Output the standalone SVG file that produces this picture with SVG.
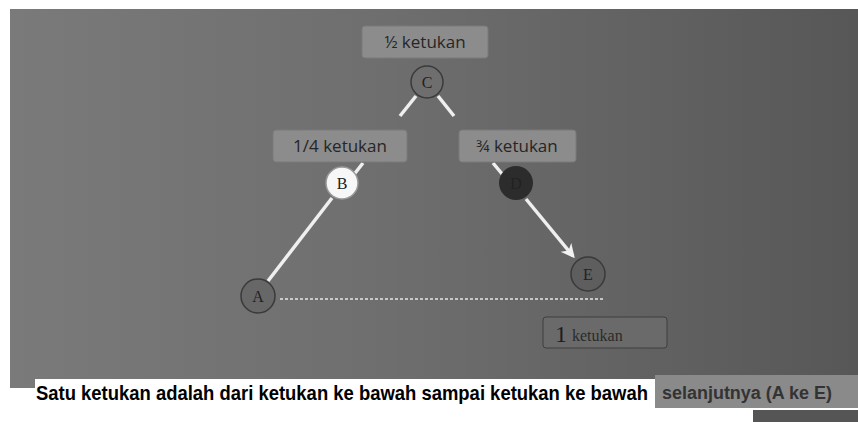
<svg xmlns="http://www.w3.org/2000/svg" width="858" height="422" viewBox="0 0 858 422">
<defs>
<linearGradient id="bg" x1="0" y1="0" x2="1" y2="0">
<stop offset="0" stop-color="#7a7a7a"/>
<stop offset="0.45" stop-color="#6e6e6e"/>
<stop offset="1" stop-color="#575757"/>
</linearGradient>
<marker id="arr" viewBox="0 0 10 10" refX="8" refY="5" markerWidth="4" markerHeight="4" orient="auto">
<path d="M0,0 L10,5 L0,10 L3,5 z" fill="#f2f2f2"/>
</marker>
<style>
.lbl{fill:#8c8c8c;stroke:#7a7a7a;stroke-width:1}
.lt{font-family:"Open Sans","Noto Sans",sans-serif;font-size:17px;fill:#262626}
.node{stroke:#3a3a3a;stroke-width:1.5}
.nt{font-family:"Liberation Serif",serif;font-size:16px;text-anchor:middle;fill:#222}
.edge{stroke:#efefef;stroke-width:3.5;fill:none}
</style>
</defs>
<rect x="0" y="0" width="858" height="422" fill="#ffffff"/>
<rect x="10" y="9" width="848" height="379" fill="url(#bg)"/>
<rect x="655" y="375" width="203" height="33" fill="#8a8a8a"/>
<rect x="753" y="410" width="105" height="12" fill="#555"/>

<g id="connectors">
<line class="edge" x1="416" y1="96" x2="400" y2="116"/>
<line class="edge" x1="363" y1="163" x2="352" y2="177"/>
<line class="edge" x1="332" y1="198" x2="268" y2="281"/>
<line class="edge" x1="438" y1="96" x2="454" y2="116"/>
<line class="edge" x1="493" y1="163" x2="503" y2="175"/>
<line class="edge" x1="526" y1="199" x2="573" y2="256" marker-end="url(#arr)"/>
<line x1="280" y1="299" x2="604" y2="299" stroke="#e6e6e6" stroke-width="1.5" stroke-dasharray="3,2"/>
</g>

<g id="label-c">
<rect class="lbl" x="362" y="26" width="126" height="32" rx="3"/>
<text class="lt" x="425" y="48" text-anchor="middle">½ ketukan</text>
</g>
<g id="label-b">
<rect class="lbl" x="273" y="130" width="134" height="32" rx="3"/>
<text class="lt" x="340" y="152" text-anchor="middle">1/4 ketukan</text>
</g>
<g id="label-d">
<rect class="lbl" x="459" y="130" width="117" height="32" rx="3"/>
<text class="lt" x="517" y="152" text-anchor="middle">¾ ketukan</text>
</g>

<g id="node-c">
<circle class="node" cx="427" cy="82" r="16" fill="#6e6e6e"/>
<text class="nt" x="427" y="88">C</text>
</g>
<g id="node-b">
<circle cx="342" cy="183" r="16" fill="#f7f7f7" stroke="#9a9a9a" stroke-width="1.5"/>
<text class="nt" x="342" y="189">B</text>
</g>
<g id="node-d">
<circle cx="516" cy="183" r="17" fill="#2c2c2c"/>
<text class="nt" x="516" y="189" fill="#3a3a3a">D</text>
</g>
<g id="node-a">
<circle class="node" cx="258" cy="296" r="17" fill="#676767"/>
<text class="nt" x="258" y="302">A</text>
</g>
<g id="node-e">
<circle class="node" cx="588" cy="274" r="17" fill="#5e5e5e"/>
<text class="nt" x="588" y="280">E</text>
</g>

<g id="label-one">
<rect x="543" y="317" width="124" height="31" rx="3" fill="#6a6a6a" stroke="#3e3e3e" stroke-width="1"/>
<text x="555" y="342" font-family="Liberation Serif,serif" font-size="24" fill="#1e1e1e">1</text>
<text x="572" y="341" font-family="Liberation Serif,serif" font-size="16" fill="#2a2a2a">ketukan</text>
</g>

<g id="caption">
<rect x="35" y="379" width="620" height="32" fill="#ffffff"/>
<text transform="translate(36,400) scale(0.9,1)" x="0" y="0" font-family="Liberation Sans,Arial,sans-serif" font-size="20" font-weight="bold" fill="#000" textLength="680" lengthAdjust="spacingAndGlyphs">Satu ketukan adalah dari ketukan ke bawah sampai ketukan ke bawah</text>
<text x="662" y="399" font-family="Liberation Sans,Arial,sans-serif" font-size="18" font-weight="bold" fill="#333" textLength="170" lengthAdjust="spacingAndGlyphs">selanjutnya (A ke E)</text>
</g>
</svg>
